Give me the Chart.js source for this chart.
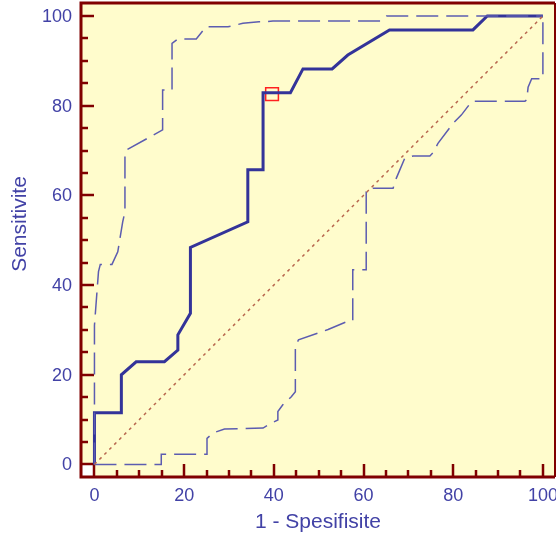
<!DOCTYPE html>
<html>
<head>
<meta charset="utf-8">
<script src="https://cdn.jsdelivr.net/npm/chart.js@4"></script>
<style>
  html, body { margin: 0; padding: 0; background: #fff; }
  #wrap { width: 556px; height: 540px; }
</style>
</head>
<body>
<div id="wrap"><canvas id="roc"></canvas></div>
<script>
// ROC curve (1 - Spesifisite vs Sensitivite)
const rocX = [0, 0, 6, 6, 9.3, 15.6, 18.6, 18.6, 21.4, 21.4, 34.2, 34.2, 37.6, 37.6, 43.7, 46.5, 53.0, 56.5, 65.8, 84.4, 87.6, 100];
const rocY = [0, 11.5, 11.5, 20, 22.9, 22.9, 25.5, 28.9, 33.7, 48.4, 54.1, 65.7, 65.7, 82.9, 82.9, 88.2, 88.2, 91.3, 96.9, 96.9, 100, 100];

// upper confidence band
const upperX = [0, 0, 0.9, 1.3, 3.9, 5.2, 6.3, 6.8, 6.8, 7.1, 15.2, 15.2, 17.3, 17.3, 18.6, 22.7, 24.9, 29.8, 31.6, 33.1, 36.7, 38.2, 39.8, 63.8, 65.1, 100];
const upperY = [0, 31, 43, 44.6, 44.6, 47.4, 54.1, 56.4, 69.5, 70.1, 74.6, 83.5, 83.5, 93.9, 94.9, 94.9, 97.6, 97.6, 98.0, 98.4, 98.7, 98.7, 98.9, 98.9, 100, 100];

// lower confidence band
const lowerX = [0, 14.9, 14.9, 25.1, 25.1, 26.4, 29.0, 37.6, 39.4, 40.9, 40.9, 42.0, 43.9, 44.8, 44.8, 45.5, 50.2, 52.1, 56.9, 57.6, 57.6, 60.6, 60.6, 61.4, 66.6, 67.3, 69.2, 71.1, 74.8, 75.5, 76.6, 80.0, 81.8, 84.1, 84.4, 96.0, 96.4, 96.7, 97.5, 100, 100];
const lowerY = [0, 0, 2.3, 2.3, 5.8, 7.0, 7.9, 8.1, 9.2, 9.9, 11.8, 13.3, 15.1, 16.2, 26.3, 27.8, 29.4, 30.1, 32.1, 32.1, 43.4, 43.4, 60.8, 61.6, 61.6, 63.8, 68.3, 68.8, 68.8, 69.5, 71.6, 76.1, 77.9, 80.9, 81.0, 81.0, 81.3, 84.1, 86.0, 86.0, 100];

// reference diagonal and the selected criterion
const diagX = [0, 100];
const diagY = [0, 100];
const pointX = [39.6];
const pointY = [82.6];

const tickVals = [0, 20, 40, 60, 80, 100];
const xTitle = "1 - Spesifisite";
const yTitle = "Sensitivite";

const toXY = (xs, ys) => xs.map((v, i) => ({ x: v, y: ys[i] }));

const blue = "#333399";
const labelBlue = "#4242a6";
const darkRed = "#800000";
const tickFont = "18px 'Liberation Sans', Arial, sans-serif";
const titleFont = "21px 'Liberation Sans', Arial, sans-serif";

// background, white corner, inward ticks, tick labels and the dark red frame
const framePlugin = {
  id: "frame",
  beforeDatasetsDraw(chart) {
    const { ctx, chartArea: a, scales: { x, y } } = chart;
    const x0 = x.getPixelForValue(0);
    const y0 = y.getPixelForValue(0);
    ctx.save();
    ctx.fillStyle = "#fffccc";
    ctx.fillRect(a.left, a.top, a.width, a.height);
    ctx.fillStyle = "#ffffff";
    ctx.fillRect(a.left, y0, x0 - a.left, a.bottom - y0);

    ctx.strokeStyle = darkRed;
    ctx.lineWidth = 2.5;
    for (let v = 0; v <= 100; v += 5) {
      const len = v % 20 === 0 ? 13 : 7;
      const px = Math.round(x.getPixelForValue(v));
      const py = Math.round(y.getPixelForValue(v));
      ctx.beginPath();
      ctx.moveTo(px, a.bottom);
      ctx.lineTo(px, a.bottom - len);
      ctx.moveTo(a.left, py);
      ctx.lineTo(a.left + len, py);
      ctx.stroke();
    }

    // tick labels
    ctx.fillStyle = labelBlue;
    ctx.font = tickFont;
    ctx.textBaseline = "middle";
    ctx.textAlign = "center";
    tickVals.forEach(v => ctx.fillText(String(v), x.getPixelForValue(v), a.bottom + 19));
    ctx.textAlign = "right";
    tickVals.forEach(v => ctx.fillText(String(v), a.left - 9, y.getPixelForValue(v) + 1));
    ctx.restore();
  },
  afterDatasetsDraw(chart) {
    const { ctx, chartArea: a } = chart;
    ctx.save();
    ctx.strokeStyle = darkRed;
    ctx.lineWidth = 3;
    ctx.beginPath();
    ctx.moveTo(a.right, a.top);
    ctx.lineTo(a.left, a.top);
    ctx.lineTo(a.left, a.bottom);
    ctx.lineTo(a.right, a.bottom);
    ctx.stroke();
    ctx.lineWidth = 2;
    ctx.beginPath();
    ctx.moveTo(a.right, a.top);
    ctx.lineTo(a.right, a.bottom);
    ctx.stroke();

    // y axis title, sits a bit above the middle like the original
    ctx.translate(20, (a.top + a.bottom) / 2 - 16);
    ctx.rotate(-Math.PI / 2);
    ctx.fillStyle = labelBlue;
    ctx.font = titleFont;
    ctx.textAlign = "center";
    ctx.textBaseline = "middle";
    ctx.fillText(yTitle, 0, 0);
    ctx.restore();
  }
};

const lineSet = (data, color, width, dash) => ({
  data,
  showLine: true,
  borderColor: color,
  borderWidth: width,
  borderDash: dash,
  pointRadius: 0,
  tension: 0,
  fill: false
});

new Chart(document.getElementById("roc"), {
  type: "scatter",
  data: {
    datasets: [
      lineSet(toXY(diagX, diagY), "#b8674e", 1.5, [3, 4]),
      lineSet(toXY(upperX, upperY), "#5c5cb0", 1.5, [22, 8]),
      lineSet(toXY(lowerX, lowerY), "#5c5cb0", 1.5, [22, 8]),
      lineSet(toXY(rocX, rocY), blue, 3, []),
      {
        data: toXY(pointX, pointY),
        pointStyle: "rect",
        pointRadius: 9,
        borderColor: "#ff2020",
        borderWidth: 1.5,
        backgroundColor: "rgba(0,0,0,0)"
      }
    ]
  },
  options: {
    responsive: true,
    maintainAspectRatio: false,
    animation: false,
    layout: { autoPadding: false, padding: { top: 3, right: 1, left: 0, bottom: 0 } },
    plugins: { legend: { display: false }, tooltip: { enabled: false } },
    scales: {
      x: {
        type: "linear",
        min: -3,
        max: 102.7,
        afterFit: s => { s.height = 63; },
        grid: { display: false, drawTicks: false },
        border: { display: false },
        ticks: { display: false },
        title: {
          display: true,
          text: xTitle,
          color: labelBlue,
          font: { family: "Liberation Sans", size: 21 },
          padding: { top: 0, bottom: 5 }
        }
      },
      y: {
        type: "linear",
        min: -2.8,
        max: 102.9,
        afterFit: s => { s.width = 81; },
        grid: { display: false, drawTicks: false },
        border: { display: false },
        ticks: { display: false }
      }
    }
  },
  plugins: [framePlugin]
});
</script>
</body>
</html>
